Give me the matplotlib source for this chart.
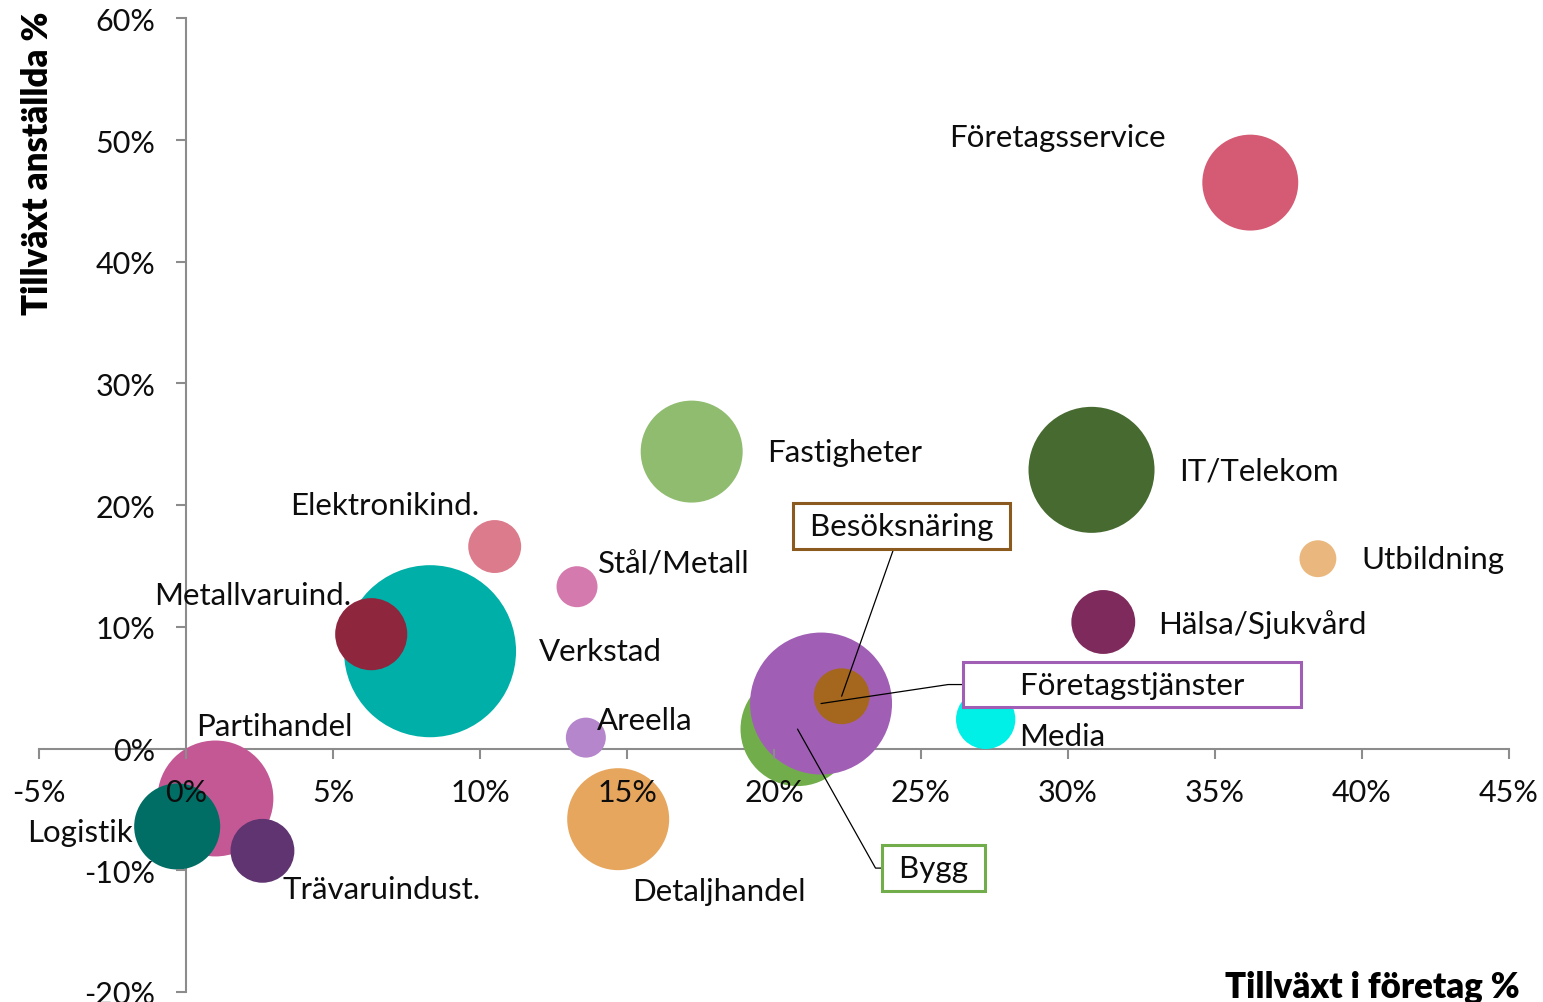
import numpy as np
import matplotlib.pyplot as plt
from matplotlib.ticker import FuncFormatter, MultipleLocator

plt.rcParams['font.family'] = ['Lato', 'DejaVu Sans']

# Branscher, ritordning = listordning (senare hamnar överst)
branscher = ['Verkstad', 'Metallvaruind.', 'Elektronikind.', 'Stål/Metall', 'Areella',
             'Fastigheter', 'IT/Telekom', 'Företagsservice', 'Utbildning', 'Hälsa/Sjukvård',
             'Media', 'Bygg', 'Företagstjänster', 'Besöksnäring', 'Detaljhandel',
             'Partihandel', 'Logistik', 'Trävaruindust.']
tillvaxt_foretag = [8.3, 6.3, 10.5, 13.3, 13.6,
                    17.2, 30.8, 36.2, 38.5, 31.2,
                    27.2, 20.8, 21.6, 22.3, 14.7,
                    1.0, -0.3, 2.6]
tillvaxt_anstallda = [8.0, 9.4, 16.6, 13.3, 0.9,
                      24.4, 22.9, 46.5, 15.6, 10.4,
                      2.4, 1.6, 3.7, 4.3, -5.8,
                      -4.1, -6.4, -8.4]
storlek = [740, 130, 70, 42, 40,
           260, 397, 230, 34, 102,
           88, 325, 504, 78, 260,
           336, 185, 102]
farger = ['#00b0a8', '#8e273d', '#dc7b8b', '#d57aae', '#b586cb',
          '#8fbc6f', '#466a30', '#d45b73', '#eab87e', '#7f2a5c',
          '#00efe6', '#72ad4c', '#a05fb5', '#a5671e', '#e6a65e',
          '#c35895', '#006e64', '#5f3470']

# etikettplacering: förskjutning i pixlar (dx, dy uppåt) + justering
etiketter = {
    'Verkstad': (109, 0, 'left'),
    'Metallvaruind.': (-20, 39, 'right'),
    'Elektronikind.': (-15, 42, 'right'),
    'Stål/Metall': (21, 23, 'left'),
    'Areella': (11, 18, 'left'),
    'Fastigheter': (75, 0, 'left'),
    'IT/Telekom': (88, -1, 'left'),
    'Företagsservice': (-85, 46, 'right'),
    'Utbildning': (43, 0, 'left'),
    'Hälsa/Sjukvård': (55, -2, 'left'),
    'Media': (33, -17, 'left'),
    'Detaljhandel': (14, -72, 'left'),
    'Partihandel': (-19, 72, 'left'),
    'Logistik': (-44, -6, 'right'),
    'Trävaruindust.': (20, -38, 'left'),
}
# etiketter med ram och hänvisningslinje
ramade = {
    'Besöksnäring': ((60, 170), '#8b5a1e', 'arc3', ' Besöksnäring '),
    'Företagstjänster': ((311, 19), '#a05fb5', 'angle,angleA=0,angleB=8.5,rad=0',
                         '      Företagstjänster      '),
    'Bygg': ((136, -139), '#72ad4c', 'angle,angleA=0,angleB=-60.7,rad=0', ' Bygg '),
}

PX = 0.72  # punkter per pixel vid dpi 100
FS = 22.5
fig = plt.figure(figsize=(15.43, 10.03), dpi=100)
ax = fig.add_axes([39 / 1543, 10 / 1003, 1470 / 1543, 973.7 / 1003])

s = np.array(storlek) * 10 * (2 * PX) ** 2
for i, namn in enumerate(branscher):
    ax.scatter(tillvaxt_foretag[i], tillvaxt_anstallda[i], s=s[i], color=farger[i],
               edgecolors='none', zorder=1 + i * 0.01)

for i, namn in enumerate(branscher):
    xy = (tillvaxt_foretag[i], tillvaxt_anstallda[i])
    if namn in etiketter:
        dx, dy, ha = etiketter[namn]
        ax.annotate(namn, xy, xytext=(dx * PX, dy * PX), textcoords='offset points',
                    ha=ha, va='center', fontsize=FS, color='#0d0d0d', zorder=5)
    else:
        (dx, dy), ec, conn, txt = ramade[namn]
        ax.annotate(txt, xy, xytext=(dx * PX, dy * PX), textcoords='offset points',
                    ha='center', va='center', fontsize=FS, color='#0d0d0d', zorder=6,
                    bbox=dict(boxstyle='square,pad=0.28', fc='white', ec=ec, lw=2.2),
                    arrowprops=dict(arrowstyle='-', color='black', lw=0.9,
                                    connectionstyle=conn, shrinkA=0, shrinkB=0))

ax.set_xlim(-5, 45)
ax.set_ylim(-20, 60)
ax.xaxis.set_major_locator(MultipleLocator(5))
ax.yaxis.set_major_locator(MultipleLocator(10))
fmt = FuncFormatter(lambda v, p: f'{v:.0f}%')
ax.xaxis.set_major_formatter(fmt)
ax.yaxis.set_major_formatter(fmt)

for side in ['top', 'right']:
    ax.spines[side].set_visible(False)
ax.spines['left'].set_position(('data', 0))
ax.spines['bottom'].set_position(('data', 0))
for side in ['left', 'bottom']:
    ax.spines[side].set_color('#8c8c8c')
    ax.spines[side].set_linewidth(1.5)
    ax.spines[side].set_zorder(0.5)
ax.tick_params(axis='both', direction='out', length=7, width=1.5, color='#8c8c8c',
               labelsize=22, labelcolor='#0d0d0d')
ax.tick_params(axis='y', pad=15)
ax.tick_params(axis='x', pad=14)
ax.patch.set_visible(False)

fig.text(38 / 1543, 1 - 163 / 1003, 'Tillväxt anställda %', rotation=90,
         ha='center', va='center', fontsize=25, weight='heavy', color='black')
fig.text(1520 / 1543, 1 - 987 / 1003, 'Tillväxt i företag %',
         ha='right', va='center', fontsize=25, weight='heavy', color='black')

fig.savefig('out.png', dpi=100)
